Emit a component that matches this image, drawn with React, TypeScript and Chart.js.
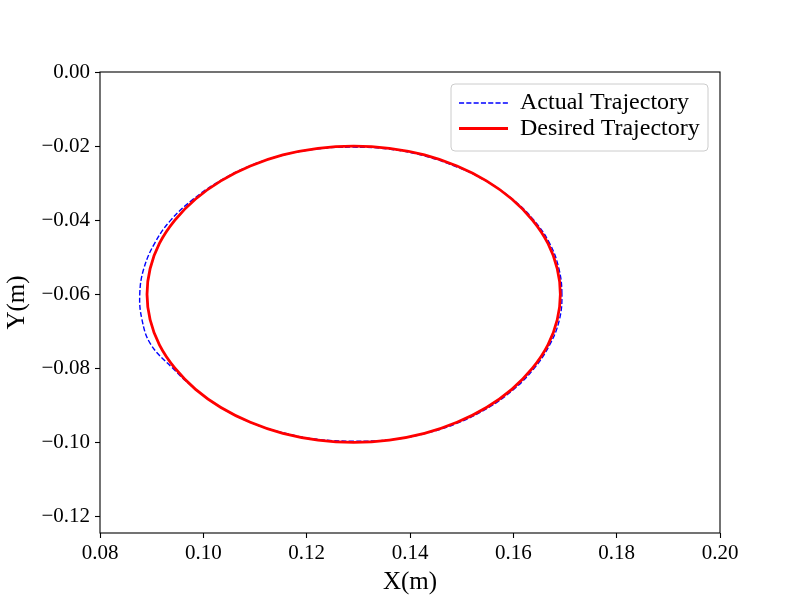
import React, { useEffect, useRef } from "react";
import { Chart, registerables } from "chart.js";

Chart.register(...registerables);

// Desired trajectory (every 10 degrees starting at the rightmost point; the path is closed)
const desiredX = [
  0.1691, 0.1685, 0.1667, 0.1637, 0.1597, 0.1548, 0.1491, 0.1428, 0.1360, 0.1291,
  0.1222, 0.1154, 0.1091, 0.1034, 0.0985, 0.0945, 0.0915, 0.0897, 0.0891, 0.0897,
  0.0915, 0.0945, 0.0985, 0.1034, 0.1091, 0.1154, 0.1222, 0.1291, 0.1360, 0.1428,
  0.1491, 0.1548, 0.1597, 0.1637, 0.1667, 0.1685,
];
const desiredY = [
  -0.0600, -0.0531, -0.0463, -0.0400, -0.0343, -0.0294, -0.0254, -0.0224, -0.0206, -0.0200,
  -0.0206, -0.0224, -0.0254, -0.0294, -0.0343, -0.0400, -0.0463, -0.0531, -0.0600, -0.0669,
  -0.0737, -0.0800, -0.0857, -0.0906, -0.0946, -0.0976, -0.0994, -0.1000, -0.0994, -0.0976,
  -0.0946, -0.0906, -0.0857, -0.0800, -0.0737, -0.0669,
];

// Actual trajectory
const actualX = [
  0.1694, 0.1688, 0.1670, 0.1639, 0.1598, 0.1548, 0.1490, 0.1426, 0.1358, 0.1289,
  0.1219, 0.1150, 0.1086, 0.1031, 0.0980, 0.0937, 0.0906, 0.0885, 0.0877, 0.0881,
  0.0898, 0.0940, 0.0984, 0.1033, 0.1089, 0.1153, 0.1221, 0.1291, 0.1361, 0.1430,
  0.1494, 0.1551, 0.1600, 0.1640, 0.1670, 0.1689,
];
const actualY = [
  -0.0600, -0.0530, -0.0462, -0.0399, -0.0343, -0.0295, -0.0256, -0.0226, -0.0208, -0.0203,
  -0.0208, -0.0226, -0.0256, -0.0295, -0.0344, -0.0400, -0.0462, -0.0530, -0.0598, -0.0667,
  -0.0735, -0.0799, -0.0856, -0.0905, -0.0945, -0.0974, -0.0992, -0.0997, -0.0993, -0.0976,
  -0.0947, -0.0907, -0.0858, -0.0801, -0.0738, -0.0670,
];

const xTicks = [0.08, 0.1, 0.12, 0.14, 0.16, 0.18, 0.2];
const yTicks = [0.0, -0.02, -0.04, -0.06, -0.08, -0.1, -0.12];
const seriesLabels = ["Actual Trajectory", "Desired Trajectory"];
const axisTitles = { x: "X(m)", y: "Y(m)" };

const FONT = "'Liberation Serif', 'Times New Roman', serif";

const fmt = (v: number) =>
  v < -1e-9 ? "\u2212" + Math.abs(v).toFixed(2) : Math.abs(v).toFixed(2);

// Close each trajectory as a smooth loop (like a radar line)
const loopPlugin = {
  id: "closedLoop",
  beforeDatasetsDraw(chart: any) {
    chart.data.datasets.forEach((_d: any, i: number) => {
      const meta = chart.getDatasetMeta(i);
      const line = meta && meta.dataset;
      if (!line) return;
      line._loop = true;
      line._fullLoop = true;
      line._pointsUpdated = false;
      line._segments = undefined;
      line._path = undefined;
    });
  },
};

const framePlugin = {
  id: "frame",
  afterDraw(chart: any) {
    const { ctx, chartArea } = chart;
    ctx.save();
    ctx.strokeStyle = "#000";
    ctx.lineWidth = 1.1;
    ctx.strokeRect(chartArea.left, chartArea.top, chartArea.right - chartArea.left, chartArea.bottom - chartArea.top);
    ctx.restore();
  },
};

const legendPlugin = {
  id: "mplLegend",
  afterDraw(chart: any) {
    const { ctx } = chart;
    ctx.save();
    const bx = 451, by = 84, bw = 257, bh = 67, r = 4;
    ctx.beginPath();
    ctx.moveTo(bx + r, by);
    ctx.lineTo(bx + bw - r, by);
    ctx.quadraticCurveTo(bx + bw, by, bx + bw, by + r);
    ctx.lineTo(bx + bw, by + bh - r);
    ctx.quadraticCurveTo(bx + bw, by + bh, bx + bw - r, by + bh);
    ctx.lineTo(bx + r, by + bh);
    ctx.quadraticCurveTo(bx, by + bh, bx, by + bh - r);
    ctx.lineTo(bx, by + r);
    ctx.quadraticCurveTo(bx, by, bx + r, by);
    ctx.closePath();
    ctx.fillStyle = "rgba(255,255,255,0.8)";
    ctx.fill();
    ctx.strokeStyle = "#cccccc";
    ctx.lineWidth = 1;
    ctx.stroke();

    ctx.beginPath();
    ctx.setLineDash([5.1, 2.2]);
    ctx.strokeStyle = "#0000ff";
    ctx.lineWidth = 1.4;
    ctx.moveTo(459, 103);
    ctx.lineTo(508, 103);
    ctx.stroke();

    ctx.beginPath();
    ctx.setLineDash([]);
    ctx.strokeStyle = "#ff0000";
    ctx.lineWidth = 2.8;
    ctx.moveTo(459, 128.5);
    ctx.lineTo(508, 128.5);
    ctx.stroke();

    ctx.fillStyle = "#000";
    ctx.font = `24px ${FONT}`;
    ctx.textBaseline = "middle";
    ctx.textAlign = "left";
    ctx.fillText(seriesLabels[0], 520, 103);
    ctx.fillText(seriesLabels[1], 520, 129);
    ctx.restore();
  },
};

export default function App() {
  const ref = useRef<HTMLCanvasElement | null>(null);

  useEffect(() => {
    if (!ref.current) return;
    const actual = actualX.map((x, i) => ({ x, y: actualY[i] }));
    const desired = desiredX.map((x, i) => ({ x, y: desiredY[i] }));
    const chart = new Chart(ref.current, {
      type: "line",
      data: {
        datasets: [
          {
            label: seriesLabels[0],
            data: actual,
            borderColor: "#0000ff",
            borderWidth: 1.4,
            borderDash: [5.1, 2.2],
            pointRadius: 0,
            tension: 0.4,
            fill: false,
            order: 1,
          },
          {
            label: seriesLabels[1],
            data: desired,
            borderColor: "#ff0000",
            borderWidth: 2.8,
            pointRadius: 0,
            tension: 0.4,
            fill: false,
            order: 0,
          },
        ],
      },
      options: {
        responsive: false,
        animation: false,
        events: [],
        layout: { padding: { left: 0, top: 72, right: 80, bottom: 0 } },
        plugins: { legend: { display: false }, tooltip: { enabled: false } },
        scales: {
          x: {
            type: "linear",
            min: 0.08,
            max: 0.2,
            afterFit: (s: any) => { s.height = 67; },
            afterBuildTicks: (s: any) => { s.ticks = xTicks.map((v) => ({ value: v })); },
            border: { display: false },
            grid: { drawOnChartArea: false, drawTicks: true, tickLength: 5, tickColor: "#000", tickWidth: 1.1 },
            ticks: {
              color: "#000",
              padding: 3,
              maxRotation: 0,
              font: { family: FONT, size: 21 },
              callback: (v: any) => fmt(Number(v)),
            },
            title: {
              display: true,
              text: axisTitles.x,
              color: "#000",
              font: { family: FONT, size: 25 },
              padding: { top: 0, bottom: 3 },
            },
          },
          y: {
            type: "linear",
            min: -0.1245,
            max: 0,
            afterFit: (s: any) => { s.width = 100; },
            afterBuildTicks: (s: any) => { s.ticks = yTicks.map((v) => ({ value: v })); },
            border: { display: false },
            grid: { drawOnChartArea: false, drawTicks: true, tickLength: 5, tickColor: "#000", tickWidth: 1.1 },
            ticks: {
              color: "#000",
              padding: 5,
              font: { family: FONT, size: 21 },
              callback: (v: any) => fmt(Number(v)),
            },
            title: {
              display: true,
              text: axisTitles.y,
              color: "#000",
              font: { family: FONT, size: 25 },
              padding: { top: 2, bottom: 0 },
            },
          },
        },
      },
      plugins: [loopPlugin, framePlugin, legendPlugin],
    });
    return () => chart.destroy();
  }, []);

  return (
    <div style={{ position: "fixed", left: 0, top: 0, width: 800, height: 600, background: "#fff" }}>
      <canvas ref={ref} width={800} height={600} />
    </div>
  );
}
